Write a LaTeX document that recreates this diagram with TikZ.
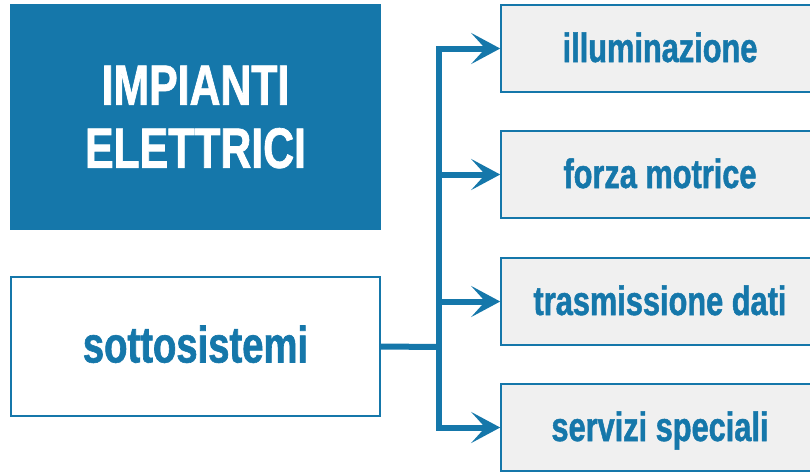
\documentclass[tikz,border=0pt]{standalone}
\usepackage{fontspec}
\setmainfont{Liberation Sans}[FakeStretch=0.75, BoldFeatures={FakeBold=1.2}]
\usetikzlibrary{arrows.meta}
\definecolor{eblue}{HTML}{1577AA}
\definecolor{egray}{HTML}{F0F0F0}
\begin{document}
\begin{tikzpicture}[x=1pt,y=-1pt,
  titlebox/.style={rectangle, fill=eblue, text=white, minimum width=371pt, minimum height=226pt, inner sep=0pt, align=center, font=\fontsize{57}{63}\selectfont\bfseries},
  subbox/.style={rectangle, draw=eblue, line width=1.8pt, fill=white, text=eblue, minimum width=369pt, minimum height=139pt, inner sep=0pt, text height=44pt, text depth=12pt, font=\fontsize{51}{60}\selectfont\bfseries},
  itembox/.style={rectangle, draw=eblue, line width=1.6pt, fill=egray, text=eblue, minimum width=318pt, minimum height=87pt, inner sep=0pt, text height=30pt, text depth=3pt, font=\fontsize{41}{48}\selectfont\bfseries},
  link/.style={draw=eblue, line width=6pt},
  arr/.style={link, -{Stealth[length=29pt, width=31pt, inset=14pt]}}
]
\useasboundingbox (0,0) rectangle (810,472);
\clip (0,0) rectangle (810,472);
\node[titlebox] (title) at (195.5,117) {IMPIANTI\\ELETTRICI};
\node[subbox] (sub) at (195.5,346.5) {sottosistemi};
\node[itembox] (b1) at (660,48.5) {illuminazione};
\node[itembox] (b2) at (660,174.5) {forza motrice};
\node[itembox] (b3) at (660,301.5) {trasmissione dati};
\node[itembox] (b4) at (660,427.5) {servizi speciali};
\coordinate (j) at (439,347);
\draw[link] (sub.east) -- (j);
\draw[link, line cap=rect] (j |- b1.west) -- (j |- b4.west);
\draw[arr] (j |- b1.west) -- (b1.west);
\draw[arr] (j |- b2.west) -- (b2.west);
\draw[arr] (j |- b3.west) -- (b3.west);
\draw[arr] (j |- b4.west) -- (b4.west);
\end{tikzpicture}
\end{document}
